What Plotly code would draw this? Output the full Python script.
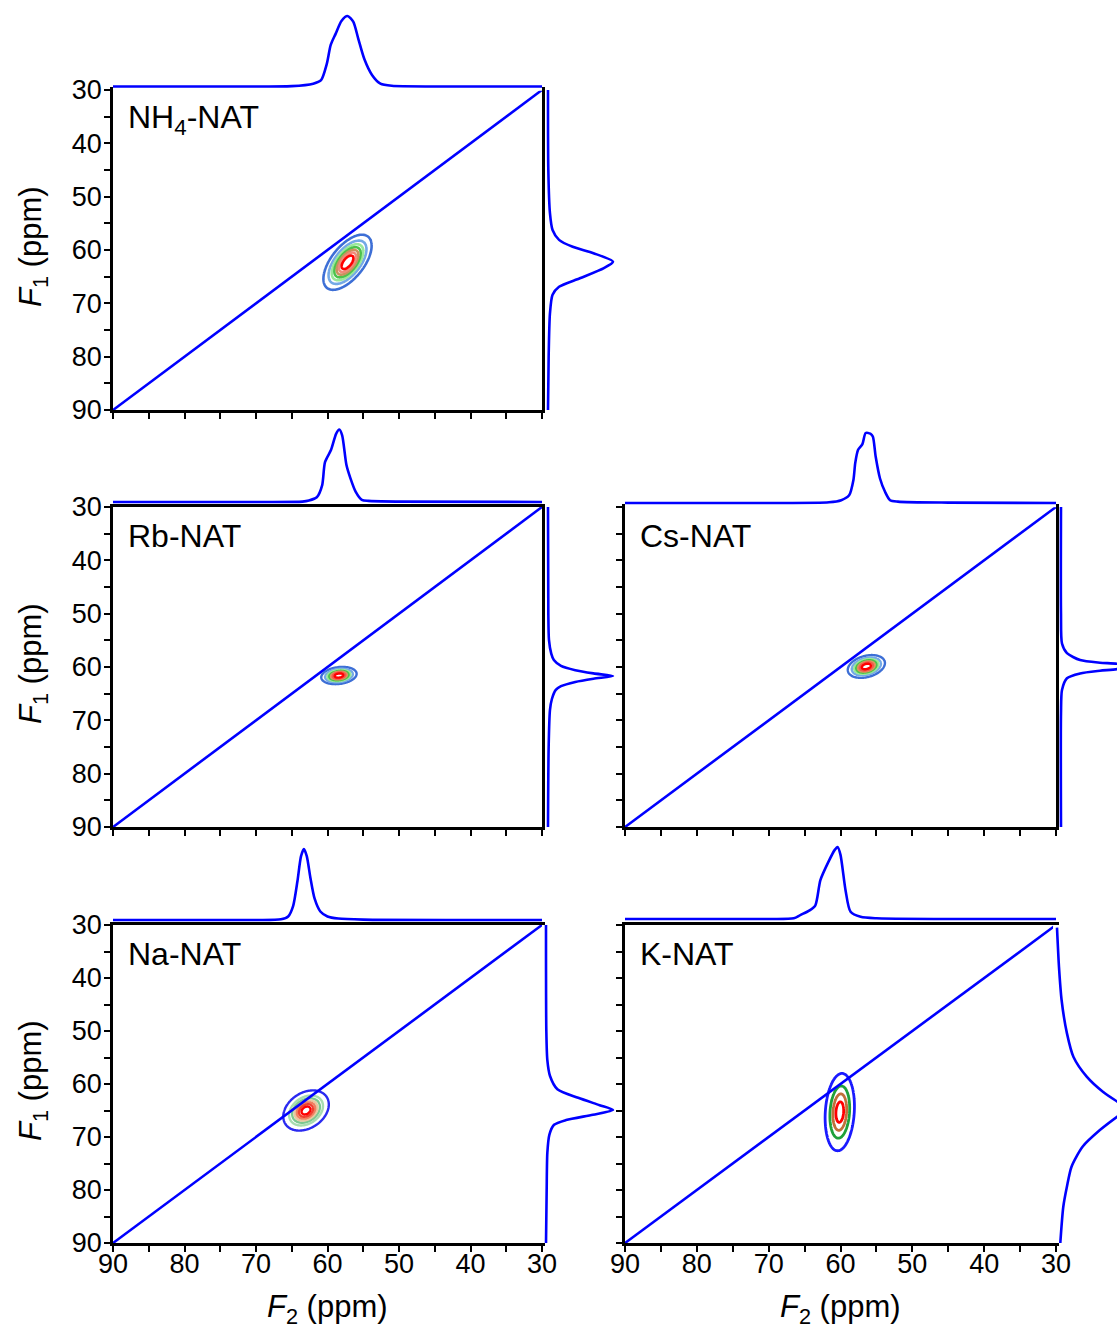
import numpy as np
import plotly.graph_objects as go

W, H = 1117, 1332

# ---------------- data ----------------
panel_names = ["NH<sub>4</sub>-NAT", "Rb-NAT", "Cs-NAT", "Na-NAT", "K-NAT"]

# 2D peak model parameters: centre (F2, F1) in ppm, widths (ppm), correlation
peak_f2 = [57.2, 58.4, 56.4, 63.0, 60.1]
peak_f1 = [62.3, 61.6, 59.9, 65.0, 65.3]
peak_sig_f2 = [1.5, 1.1, 1.15, 1.3, 0.95]
peak_sig_f1 = [2.3, 0.72, 0.95, 1.55, 3.4]
peak_rho = [0.6, 0.2, 0.3, 0.3, 0.15]

# contour levels (fraction of maximum): start, step, count
level_start = [0.08, 0.08, 0.08, 0.05, 0.10]
level_step = [0.13, 0.13, 0.13, 0.14, 0.25]
level_count = [7, 7, 7, 7, 4]
level_colors = [
    ["#3d6fd6", "#74a9e6", "#9ae89a", "#4cc24c", "#c9925e", "#f08a7a", "#ff0000"],
    ["#3d6fd6", "#74a9e6", "#9ae89a", "#4cc24c", "#e0905e", "#f05a4a", "#ff0000"],
    ["#3d6fd6", "#74a9e6", "#9ae89a", "#4cc24c", "#e0905e", "#f05a4a", "#ff0000"],
    ["#2a2af0", "#a8dcb0", "#7cc890", "#e8c8a0", "#f08060", "#f04030", "#ff0000"],
    ["#1a1aff", "#1fa03a", "#c0703a", "#ff0000"],
]
level_width = [2.6, 2.4, 2.4, 2.4, 2.8]

# top (F2) projections: ppm, normalised intensity
nh4_top_f2 = [90, 75, 65, 62.0, 60.9, 60.1, 59.55, 58.85, 58.05, 57.2, 56.4, 55.7, 54.85, 53.75, 52.6, 51.0, 45, 30]
nh4_top_int = [0.0, 0.0, 0.005, 0.04, 0.09, 0.32, 0.59, 0.75, 0.93, 1.0, 0.92, 0.68, 0.39, 0.16, 0.04, 0.01, 0.0, 0.0]
rb_top_f2 = [90, 70, 63.5, 62.6, 61.5, 60.75, 60.35, 59.5, 58.8, 58.35, 57.95, 57.35, 56.8, 56.05, 55.2, 54.3, 50, 30]
rb_top_int = [0.0, 0.0, 0.005, 0.02, 0.065, 0.23, 0.55, 0.72, 0.94, 1.0, 0.92, 0.51, 0.33, 0.14, 0.03, 0.015, 0.005, 0.0]
cs_top_f2 = [90, 70, 61.6, 59.9, 58.8, 58.2, 57.95, 57.55, 56.95, 56.5, 55.85, 55.5, 55.1, 54.5, 53.8, 53.1, 52.0, 45, 30]
cs_top_int = [0.0, 0.0, 0.01, 0.04, 0.11, 0.33, 0.57, 0.76, 0.84, 1.0, 0.99, 0.95, 0.66, 0.35, 0.16, 0.04, 0.02, 0.005, 0.0]
na_top_f2 = [90, 70, 66.5, 65.5, 64.8, 64.2, 63.7, 63.3, 62.9, 62.4, 61.8, 61.0, 60.0, 58.5, 55, 30]
na_top_int = [0.0, 0.0, 0.01, 0.05, 0.2, 0.55, 0.9, 1.0, 0.9, 0.6, 0.3, 0.12, 0.05, 0.02, 0.005, 0.0]
k_top_f2 = [90, 70, 66.5, 65.6, 64.3, 63.5, 62.8, 61.7, 60.8, 60.4, 60.0, 59.3, 58.6, 57.2, 55, 30]
k_top_int = [0.0, 0.0, 0.01, 0.055, 0.12, 0.19, 0.54, 0.79, 0.96, 1.0, 0.89, 0.40, 0.10, 0.03, 0.01, 0.0]

# right (F1) projections: ppm, normalised intensity
nh4_right_f1 = [30, 45, 53.1, 56.25, 58.1, 59.4, 60.6, 62.2, 63.4, 65.3, 66.9, 68.4, 71.9, 80, 90]
nh4_right_int = [0.0, 0.005, 0.03, 0.07, 0.17, 0.38, 0.70, 1.0, 0.86, 0.49, 0.17, 0.07, 0.03, 0.01, 0.0]
rb_right_f1 = [30, 50, 54.9, 57.5, 58.7, 59.8, 60.6, 61.2, 61.7, 62.2, 62.8, 63.6, 64.3, 66, 68.1, 75, 90]
rb_right_int = [0.0, 0.005, 0.015, 0.05, 0.09, 0.2, 0.42, 0.7, 1.0, 0.7, 0.42, 0.2, 0.12, 0.06, 0.03, 0.01, 0.0]
cs_right_f1 = [30, 50, 55.6, 57.4, 58.7, 59.2, 59.4, 59.9, 60.4, 60.7, 61.2, 62.1, 64.3, 68.7, 90]
cs_right_int = [0.0, 0.0, 0.015, 0.09, 0.29, 0.59, 0.85, 1.0, 0.85, 0.59, 0.29, 0.09, 0.015, 0.0, 0.0]
na_right_f1 = [30, 50, 55.5, 58.5, 61, 62.6, 64.0, 64.9, 65.8, 66.8, 67.7, 69.6, 73, 80, 90]
na_right_int = [0.0, 0.005, 0.02, 0.06, 0.17, 0.48, 0.8, 1.0, 0.7, 0.3, 0.12, 0.05, 0.02, 0.01, 0.0]
k_right_f1 = [30.5, 37.9, 44.2, 50.4, 54.9, 58.6, 61.5, 63.3, 64.7, 66.2, 68.7, 71.8, 75.6, 79.4, 83.2, 90]
k_right_int = [0.0, 0.03, 0.07, 0.15, 0.25, 0.45, 0.70, 0.91, 1.08, 0.91, 0.65, 0.39, 0.22, 0.15, 0.095, 0.05]

top_f2 = [nh4_top_f2, rb_top_f2, cs_top_f2, na_top_f2, k_top_f2]
top_int = [nh4_top_int, rb_top_int, cs_top_int, na_top_int, k_top_int]
right_f1 = [nh4_right_f1, rb_right_f1, cs_right_f1, na_right_f1, k_right_f1]
right_int = [nh4_right_int, rb_right_int, cs_right_int, na_right_int, k_right_int]

tick_vals = list(range(30, 95, 5))
tick_text = [str(v) if v % 10 == 0 else "" for v in tick_vals]
diag_ppm = [90, 30]

# ---------------- layout geometry (pixels) ----------------
geom = [
    dict(box=(113, 542, 90, 410), tb=86.5, th=70.5, rb=548, rh=65, xl=False, yl=True),
    dict(box=(113, 542, 507, 827), tb=502, th=72.5, rb=548, rh=65, xl=False, yl=True),
    dict(box=(625, 1056, 507, 827), tb=503, th=70, rb=1061, rh=66, xl=False, yl=False),
    dict(box=(113, 542, 925, 1243), tb=920, th=71, rb=546, rh=67, xl=True, yl=True),
    dict(box=(625, 1056, 925, 1243), tb=919, th=72, rb=1057, rh=66, xl=True, yl=False),
]

FONT = "Liberation Sans, Arial, sans-serif"
BLUE = "#0000ff"


def px_x(p):
    return p / W


def px_y(p):
    return 1 - p / H


def ax(n):
    return "" if n == 1 else str(n)


fig = go.Figure()
layout = dict(
    width=W, height=H, margin=dict(l=0, r=0, t=0, b=0),
    paper_bgcolor="white", plot_bgcolor="white", showlegend=False,
    template="none", font=dict(family=FONT, color="black"),
)
annotations = []

for i in range(5):
    g = geom[i]
    x0, x1, y0, y1 = g["box"]
    n_main, n_top, n_right = 3 * i + 1, 3 * i + 2, 3 * i + 3

    layout["xaxis" + ax(n_main)] = dict(
        domain=[px_x(x0), px_x(x1)], range=[90, 30], anchor="y" + ax(n_main),
        showline=True, linecolor="black", linewidth=2.5, mirror=True,
        ticks="outside", ticklen=6, tickwidth=2, tickcolor="black",
        tickvals=tick_vals, ticktext=tick_text, showticklabels=g["xl"],
        ticklabelstandoff=-11,
        tickfont=dict(size=27, family=FONT, color="black"),
        showgrid=False, zeroline=False,
    )
    layout["yaxis" + ax(n_main)] = dict(
        domain=[px_y(y1), px_y(y0)], range=[90, 30], anchor="x" + ax(n_main),
        showline=True, linecolor="black", linewidth=2.5, mirror=True,
        ticks="outside", ticklen=6, tickwidth=2, tickcolor="black",
        tickvals=tick_vals, ticktext=tick_text, showticklabels=g["yl"],
        ticklabelstandoff=-3,
        tickfont=dict(size=27, family=FONT, color="black"),
        showgrid=False, zeroline=False,
    )
    tb, th = g["tb"], g["th"]
    lo, hi = -0.06, 1.12
    layout["xaxis" + ax(n_top)] = dict(
        domain=[px_x(x0), px_x(x1)], range=[90, 30], anchor="y" + ax(n_top), visible=False)
    layout["yaxis" + ax(n_top)] = dict(
        domain=[px_y(tb - lo * th), px_y(tb - hi * th)], range=[lo, hi],
        anchor="x" + ax(n_top), visible=False)
    rb, rh = g["rb"], g["rh"]
    xr = min(rb + hi * rh, W)
    layout["xaxis" + ax(n_right)] = dict(
        domain=[px_x(rb + lo * rh), px_x(xr)], range=[lo, (xr - rb) / rh],
        anchor="y" + ax(n_right), visible=False)
    layout["yaxis" + ax(n_right)] = dict(
        domain=[px_y(y1), px_y(y0)], range=[90, 30], anchor="x" + ax(n_right), visible=False)

    # contour grid from the peak model
    c2, c1 = peak_f2[i], peak_f1[i]
    s2, s1, r = peak_sig_f2[i], peak_sig_f1[i], peak_rho[i]
    f2 = np.arange(c2 - 8, c2 + 8.001, 0.1)
    f1 = np.arange(c1 - 14, c1 + 14.001, 0.1)
    F2, F1 = np.meshgrid(f2, f1)
    u = (F2 - c2) / s2
    v = (F1 - c1) / s1
    z = np.exp(-0.5 * (u * u - 2 * r * u * v + v * v) / (1 - r * r))
    z = np.round(z, 4)

    cols = level_colors[i]
    n = level_count[i]
    cscale = [[k / (n - 1), cols[k]] for k in range(n)]
    start = level_start[i]
    step = level_step[i]
    end = start + step * (n - 1)
    fig.add_trace(go.Contour(
        x=np.round(f2, 2), y=np.round(f1, 2), z=z,
        autocontour=False,
        contours=dict(start=start, end=end, size=step, coloring="lines"),
        colorscale=cscale, showscale=False, line=dict(width=level_width[i]),
        xaxis="x" + ax(n_main), yaxis="y" + ax(n_main), hoverinfo="skip",
    ))
    fig.add_trace(go.Scatter(
        x=diag_ppm, y=diag_ppm, mode="lines", line=dict(color=BLUE, width=2.6),
        xaxis="x" + ax(n_main), yaxis="y" + ax(n_main), hoverinfo="skip"))
    fig.add_trace(go.Scatter(
        x=top_f2[i], y=top_int[i], mode="lines",
        line=dict(color=BLUE, width=2.6, shape="spline", smoothing=0.7),
        xaxis="x" + ax(n_top), yaxis="y" + ax(n_top), hoverinfo="skip"))
    fig.add_trace(go.Scatter(
        x=right_int[i], y=right_f1[i], mode="lines",
        line=dict(color=BLUE, width=2.6, shape="spline", smoothing=0.7),
        xaxis="x" + ax(n_right), yaxis="y" + ax(n_right), hoverinfo="skip"))

    annotations.append(dict(
        text=panel_names[i], x=px_x(x0 + 13), y=px_y(y0 + 29), xref="paper", yref="paper",
        xanchor="left", yanchor="middle", showarrow=False,
        font=dict(size=32, family=FONT, color="black")))
    if g["yl"]:
        annotations.append(dict(
            text="<i>F</i><sub>1</sub> (ppm)", x=px_x(33), y=px_y((y0 + y1) / 2 - 3),
            xref="paper", yref="paper", xanchor="center", yanchor="middle",
            textangle=-90, showarrow=False, font=dict(size=31, family=FONT, color="black")))
    if g["xl"]:
        annotations.append(dict(
            text="<i>F</i><sub>2</sub> (ppm)", x=px_x((x0 + x1) / 2), y=px_y(1309),
            xref="paper", yref="paper", xanchor="center", yanchor="middle",
            showarrow=False, font=dict(size=31, family=FONT, color="black")))

layout["annotations"] = annotations
fig.update_layout(**layout)
fig.write_html("out.html")
